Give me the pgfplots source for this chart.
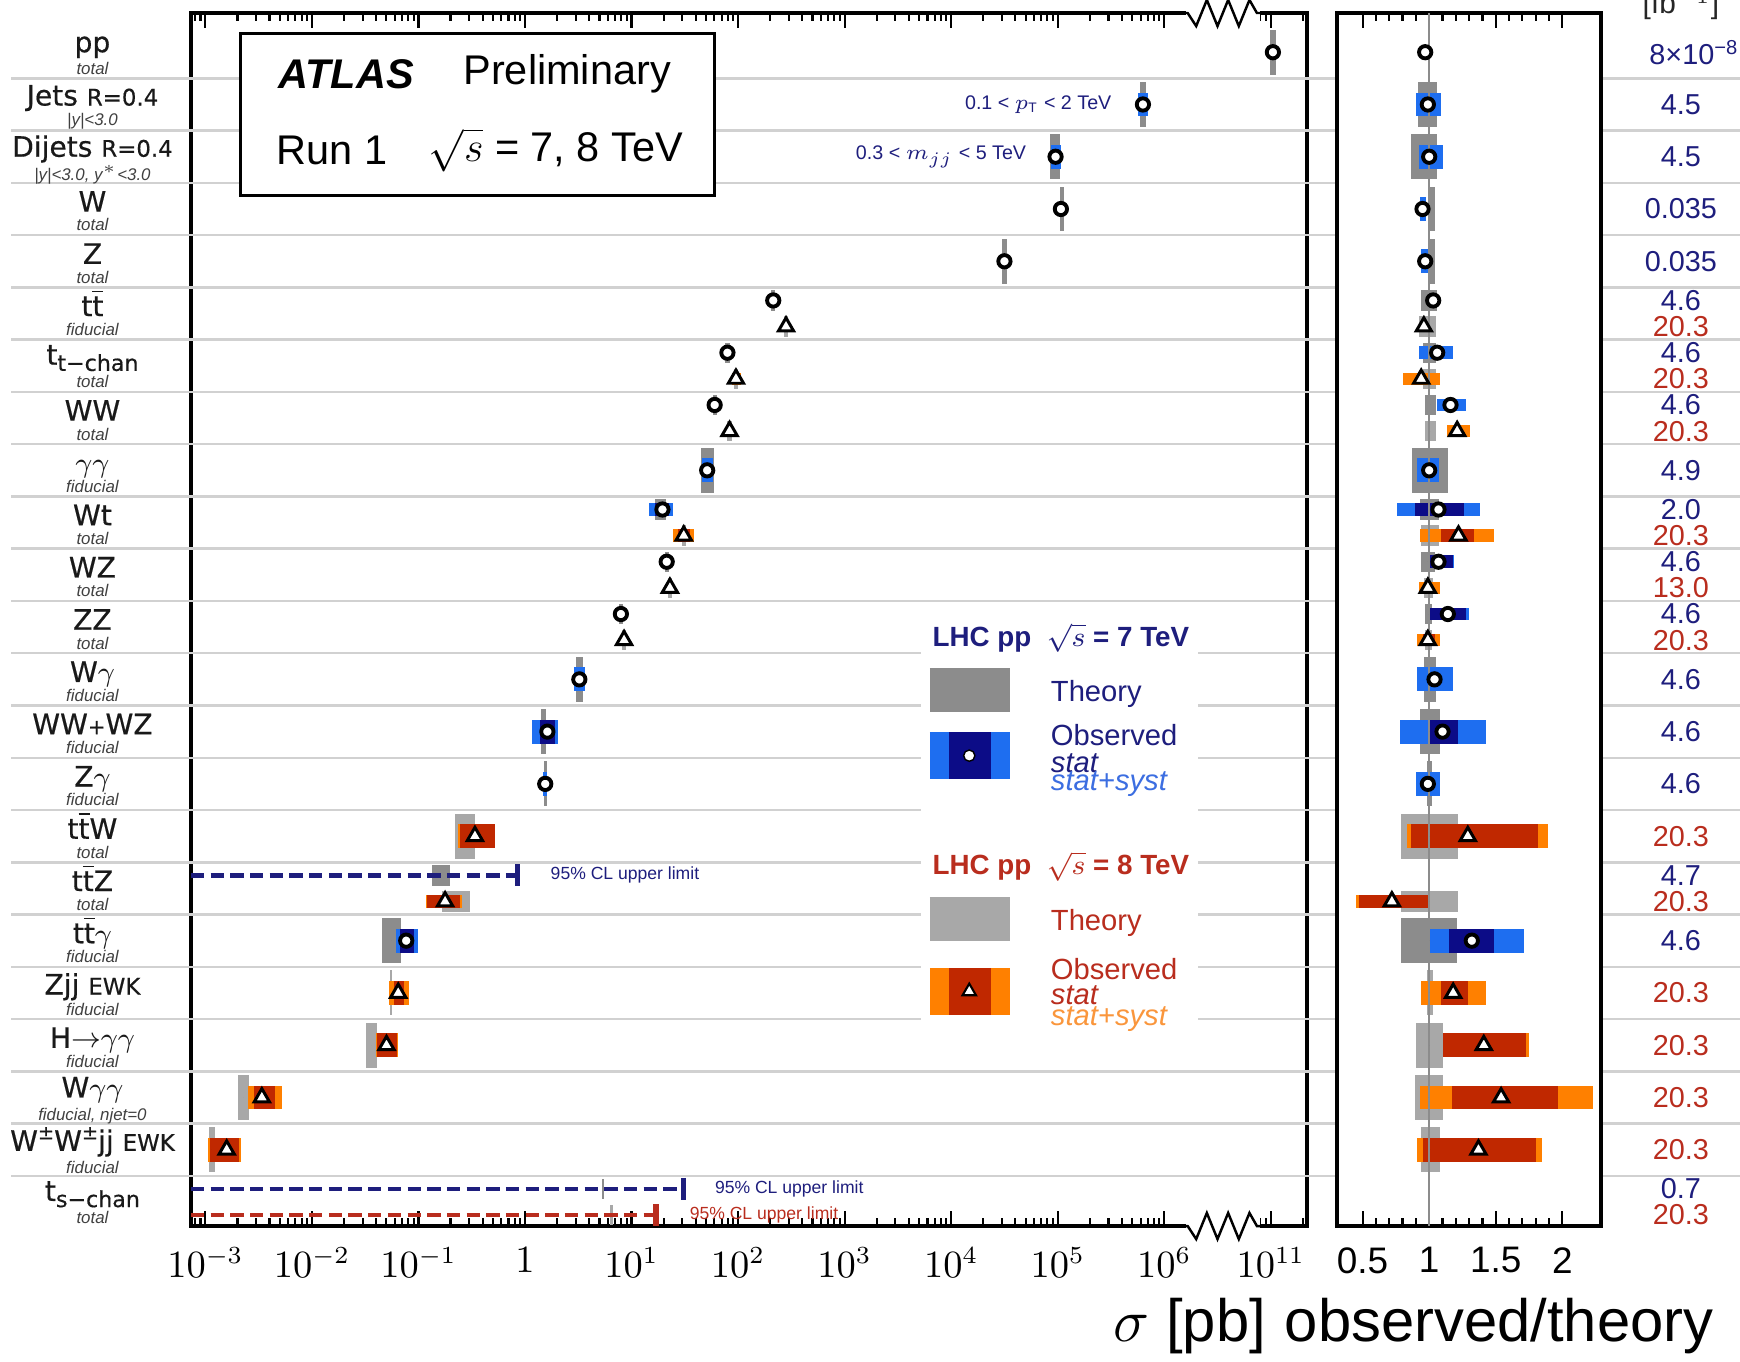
\documentclass[border=0pt]{standalone}
\usepackage{fontspec}
\setmainfont{Liberation Sans}
\newfontfamily\dejavu[FakeBold=0.5]{DejaVu Sans}
\usepackage{pgfplots}
\pgfplotsset{compat=1.18}
\usepackage{pgfplotstable}

\definecolor{txtsev}{RGB}{30,30,125}
\definecolor{txteig}{RGB}{185,45,30}
\definecolor{thsev}{RGB}{140,140,140}
\definecolor{theig}{RGB}{168,168,168}
\definecolor{obsevtot}{RGB}{30,110,240}
\definecolor{obsevstat}{RGB}{12,12,135}
\definecolor{obeigtot}{RGB}{255,128,0}
\definecolor{obeigstat}{RGB}{192,40,0}
\definecolor{syssev}{RGB}{60,110,225}
\definecolor{syseig}{RGB}{250,150,60}

% box heights: tall/short theory, single/paired observed
\def\hTa{12.8pt}
\def\hTb{5.8pt}
\def\hOa{6.8pt}
\def\hOb{3.6pt}

% log-scale minor ticks (axis is in log10 units, 10^6..10^11 compressed)
\def\mtl{-3.097,-3.046}
\foreach \d in {-3,...,5}{\foreach \l in {0.301,0.477,0.602,0.699,0.778,0.845,0.903,0.954}{\pgfmathsetmacro\v{\d+\l}\xdef\mtl{\mtl,\v}}}
\xdef\mtl{\mtl,6.903,6.954,7.301}
\edef\tmp{\noexpand\pgfplotsset{logminor/.style={minor xtick={\mtl}}}}\tmp

% one horizontal box per row: y, lower edge, upper edge
\newcommand{\bx}[3]{\addplot[only marks, mark=*, mark size=0pt,
  mark options={draw=none, fill=none}, forget plot,
  error bars/.cd, x dir=both, x explicit, error mark=none,
  error bar style={draw=#2, line width=#3, line cap=butt}]
  table[x expr={(\thisrow{lo}+\thisrow{hi})/2}, y=y,
        x error expr={(\thisrow{hi}-\thisrow{lo})/2}] {#1};}

%%%%% main panel, x = log10(sigma/pb)
\pgfplotstableread{
y lo hi
1 6.995 7.045
2 5.77 5.83
3 4.93 5.02
4 5.02 5.06
5 4.48 4.52
9 1.65 1.77
13 0.48 0.54
14 0.15 0.20
15 0.175 0.205
18 -1.34 -1.16
}\mThSevA
\pgfplotstableread{
y lo hi
5.75 2.31 2.35
6.75 1.88 1.92
7.75 1.76 1.80
9.75 1.22 1.32
10.75 1.31 1.35
11.75 0.88 0.92
16.75 -0.875 -0.70
22.75 0.72 0.745
}\mThSevB
\pgfplotstableread{
y lo hi
16 -0.656 -0.47
19 -1.27 -1.25
20 -1.49 -1.39
21 -2.69 -2.59
22 -2.97 -2.91
}\mThEigA
\pgfplotstableread{
y lo hi
6.25 2.43 2.47
7.25 1.96 2.00
8.25 1.90 1.94
10.25 1.47 1.51
11.25 1.34 1.38
12.25 0.91 0.95
17.25 -0.78 -0.52
23.25 0.80 0.825
}\mThEigB
\pgfplotstableread{
y lo hi
2 5.75 5.85
3 4.94 5.03
9 1.66 1.76
13 0.46 0.56
14 0.07 0.31
15 0.17 0.21
18 -1.21 -1.0
}\mObSevTotA
\pgfplotstableread{
y lo hi
14 0.14 0.28
18 -1.17 -1.04
}\mObSevStatA
\pgfplotstableread{
y lo hi
9.75 1.16 1.39
}\mObSevTotB
\pgfplotstableread{
y lo hi
9.75 1.22 1.35
}\mObSevStatB
\pgfplotstableread{
y lo hi
16 -0.625 -0.28
19 -1.28 -1.09
20 -1.40 -1.19
21 -2.60 -2.28
22 -2.98 -2.67
}\mObEigTotA
\pgfplotstableread{
y lo hi
16 -0.61 -0.28
19 -1.23 -1.14
20 -1.39 -1.20
21 -2.54 -2.35
22 -2.96 -2.68
}\mObEigStatA
\pgfplotstableread{
y lo hi
7.25 1.94 2.03
10.25 1.39 1.59
17.25 -0.93 -0.59
}\mObEigTotB
\pgfplotstableread{
y lo hi
10.25 1.44 1.55
17.25 -0.92 -0.61
}\mObEigStatB
\pgfplotstableread{
x y
7.02 1
5.80 2
4.98 3
5.03 4
4.50 5
2.33 5.75
1.90 6.75
1.78 7.75
1.71 9
1.29 9.75
1.33 10.75
0.90 11.75
0.51 13
0.21 14
0.19 15
-1.115 18
}\mCirc
\pgfplotstableread{
x y
2.45 6.25
1.98 7.25
1.92 8.25
1.49 10.25
1.36 11.25
0.93 12.25
-0.47 16
-0.75 17.25
-1.19 19
-1.30 20
-2.47 21
-2.80 22
}\mTri

%%%%% ratio panel, x = observed/theory
\pgfplotstableread{
y lo hi
2 0.917 1.06
3 0.86 1.06
4 0.99 1.04
5 0.99 1.04
9 0.87 1.14
13 0.96 1.05
14 0.93 1.08
15 0.98 1.02
18 0.79 1.21
}\rThSevA
\pgfplotstableread{
y lo hi
5.75 0.94 1.06
6.75 0.95 1.05
7.75 0.97 1.05
9.75 0.93 1.07
10.75 0.94 1.04
11.75 0.97 1.02
}\rThSevB
\pgfplotstableread{
y lo hi
16 0.79 1.22
19 0.98 1.03
20 0.90 1.10
21 0.89 1.10
22 0.94 1.08
}\rThEigA
\pgfplotstableread{
y lo hi
6.25 0.92 1.05
7.25 0.95 1.05
8.25 0.97 1.05
10.25 0.94 1.07
11.25 0.96 1.03
12.25 0.97 1.02
17.25 0.79 1.22
}\rThEigB
\pgfplotstableread{
y lo hi
2 0.90 1.09
3 0.92 1.10
4 0.93 0.975
5 0.94 0.99
9 0.91 1.075
13 0.91 1.18
14 0.78 1.43
15 0.90 1.08
18 1.00 1.71
}\rObSevTotA
\pgfplotstableread{
y lo hi
14 1.00 1.22
18 1.15 1.49
}\rObSevStatA
\pgfplotstableread{
y lo hi
6.75 0.92 1.18
7.75 1.06 1.28
9.75 0.76 1.38
10.75 0.99 1.19
11.75 0.99 1.30
}\rObSevTotB
\pgfplotstableread{
y lo hi
9.75 0.89 1.26
10.75 1.00 1.18
11.75 1.00 1.28
}\rObSevStatB
\pgfplotstableread{
y lo hi
16 0.83 1.89
19 0.94 1.43
20 1.10 1.75
21 0.93 2.23
22 0.91 1.85
}\rObEigTotA
\pgfplotstableread{
y lo hi
16 0.86 1.82
19 1.09 1.29
20 1.10 1.73
21 1.17 1.97
22 0.95 1.80
}\rObEigStatA
\pgfplotstableread{
y lo hi
7.25 0.80 1.08
8.25 1.13 1.31
10.25 0.93 1.49
11.25 0.92 1.08
12.25 0.91 1.08
17.25 0.45 1.00
}\rObEigTotB
\pgfplotstableread{
y lo hi
10.25 1.09 1.34
12.25 0.95 1.04
17.25 0.47 1.00
}\rObEigStatB
\pgfplotstableread{
x y
0.97 1
0.99 2
1.00 3
0.95 4
0.97 5
1.03 5.75
1.06 6.75
1.16 7.75
1.00 9
1.07 9.75
1.07 10.75
1.14 11.75
1.04 13
1.10 14
0.99 15
1.32 18
}\rCirc
\pgfplotstableread{
x y
0.96 6.25
0.94 7.25
1.21 8.25
1.22 10.25
0.99 11.25
0.99 12.25
1.29 16
0.72 17.25
1.18 19
1.41 20
1.54 21
1.37 22
}\rTri

\tikzset{
  lab/.style={font=\dejavu\fontsize{8}{9}\selectfont, text=black!90, anchor=base, inner sep=0pt},
  sub/.style={font=\fontsize{4.8}{5}\selectfont\itshape, text=black!75, anchor=base, inner sep=0pt},
  lum7/.style={font=\fontsize{8.2}{9}\selectfont, text=txtsev, inner sep=0pt},
  lum8/.style={font=\fontsize{8.2}{9}\selectfont, text=txteig, inner sep=0pt},
  sep/.style={draw=black!18, line width=0.7pt},
  leg/.style={anchor=west, inner sep=0pt, font=\fontsize{8.3}{9}\selectfont},
}
\pgfplotsset{
  circ/.style={only marks, mark=*, mark size=1.75pt, mark options={fill=white, draw=black, line width=1.1pt}},
  tri/.style={only marks, mark=triangle*, mark size=2.5pt, mark options={fill=white, draw=black, line width=0.85pt}},
  panel/.style={scale only axis, anchor=south west, height=12.13cm,
    ymin=0.25, ymax=23.46, y dir=reverse, ytick=\empty, clip=false,
    axis line style={line width=0.9pt},
    major tick length=0.15cm, minor tick length=0.08cm,
    every tick/.style={black, line width=0.6pt},
    tick label style={font=\fontsize{10.5}{12}\selectfont},
    xticklabel style={yshift=-0.9mm}},
}
\newcommand{\tb}{$\overline{\mbox{t}}$}

\begin{document}
\begin{tikzpicture}
\path[use as bounding box] (0,0) rectangle (17.4,13.61);

\begin{axis}[panel, at={(1.91cm,1.35cm)}, width=11.16cm,
  xmin=-3.135, xmax=7.34,
  xtick={-3,-2,-1,0,1,2,3,4,5,6,7},
  xticklabels={$10^{-3}$,$10^{-2}$,$10^{-1}$,$1$,$10^{1}$,$10^{2}$,$10^{3}$,$10^{4}$,$10^{5}$,$10^{6}$,$10^{11}$},
  logminor]
% row separators
\pgfplotsinvokeforeach{1,...,22}{
  \draw[sep] (-4.82,#1.5) -- (-3.135,#1.5);
  \draw[sep] (-3.135,#1.5) -- (11.4,#1.5);}
% ATLAS box and legend background
\draw[line width=0.8pt, fill=white] (-2.667,0.639) rectangle (1.781,3.739);
\fill[white] (3.72,11.8) rectangle (6.32,19.85);

% theory
\bx{\mThSevA}{thsev}{\hTa}
\bx{\mThSevB}{thsev}{\hTb}
\bx{\mThEigA}{theig}{\hTa}
\bx{\mThEigB}{theig}{\hTb}
% observed
\bx{\mObSevTotA}{obsevtot}{\hOa}
\bx{\mObSevStatA}{obsevstat}{\hOa}
\bx{\mObSevTotB}{obsevtot}{\hOb}
\bx{\mObSevStatB}{obsevstat}{\hOb}
\bx{\mObEigTotA}{obeigtot}{\hOa}
\bx{\mObEigStatA}{obeigstat}{\hOa}
\bx{\mObEigTotB}{obeigtot}{\hOb}
\bx{\mObEigStatB}{obeigstat}{\hOb}

% 95% CL upper limits
\addplot[txtsev, line width=1.3pt, dash pattern=on 3.8pt off 1.8pt] coordinates {(-3.135,16.75) (-0.073,16.75)};
\addplot[txtsev, line width=1.5pt] coordinates {(-0.073,16.54) (-0.073,16.96)};
\addplot[txtsev, line width=1.3pt, dash pattern=on 3.8pt off 1.8pt] coordinates {(-3.135,22.75) (1.49,22.75)};
\addplot[txtsev, line width=1.5pt] coordinates {(1.49,22.54) (1.49,22.96)};
\addplot[txteig, line width=1.3pt, dash pattern=on 3.8pt off 1.8pt] coordinates {(-3.135,23.25) (1.23,23.25)};
\addplot[txteig, line width=1.5pt] coordinates {(1.23,23.04) (1.23,23.46)};

\addplot[circ] table {\mCirc};
\addplot[tri] table {\mTri};

% legend
\node[leg, font=\fontsize{7.9}{9}\selectfont\bfseries, text=txtsev] at (3.82,12.21) {LHC pp\ \ $\sqrt{s}$ = 7 TeV};
\addplot[thsev, line width=12.6pt] coordinates {(3.80,13.2) (4.55,13.2)};
\addplot[obsevtot, line width=13.3pt] coordinates {(3.80,14.46) (4.55,14.46)};
\addplot[obsevstat, line width=13.3pt] coordinates {(3.98,14.46) (4.37,14.46)};
\addplot[only marks, mark=*, mark size=1.6pt, mark options={fill=white, draw=black, line width=0.4pt}] coordinates {(4.17,14.46)};
\node[leg, text=txtsev] at (4.93,13.27) {Theory};
\node[leg, text=txtsev] at (4.93,14.06) {Observed};
\node[leg, text=txtsev, font=\fontsize{8.3}{9}\selectfont\itshape] at (4.93,14.6) {stat};
\node[leg, text=syssev, font=\fontsize{8.3}{9}\selectfont\itshape] at (4.93,15.0) {stat+syst};

\node[leg, font=\fontsize{7.9}{9}\selectfont\bfseries, text=txteig] at (3.82,16.58) {LHC pp\ \ $\sqrt{s}$ = 8 TeV};
\addplot[theig, line width=12.6pt] coordinates {(3.80,17.58) (4.55,17.58)};
\addplot[obeigtot, line width=13.3pt] coordinates {(3.80,18.97) (4.55,18.97)};
\addplot[obeigstat, line width=13.3pt] coordinates {(3.98,18.97) (4.37,18.97)};
\addplot[only marks, mark=triangle*, mark size=2.2pt, mark options={fill=white, draw=black, line width=0.6pt}] coordinates {(4.17,18.97)};
\node[leg, text=txteig] at (4.93,17.67) {Theory};
\node[leg, text=txteig] at (4.93,18.54) {Observed};
\node[leg, text=txteig, font=\fontsize{8.3}{9}\selectfont\itshape] at (4.93,19.04) {stat};
\node[leg, text=syseig, font=\fontsize{8.3}{9}\selectfont\itshape] at (4.93,19.5) {stat+syst};

% ATLAS label
\node[font=\fontsize{11.8}{13}\selectfont\bfseries\itshape] at (-1.677,1.42) {ATLAS};
\node[font=\fontsize{11.8}{13}\selectfont] at (0.396,1.42) {Preliminary};
\node[font=\fontsize{11.8}{13}\selectfont] at (-1.81,2.87) {Run 1};
\node[font=\fontsize{11.8}{13}\selectfont] at (0.29,2.87) {$\sqrt{s}$ = 7, 8 TeV};

% in-panel notes
\node[anchor=east, font=\fontsize{5.6}{6}\selectfont, text=txtsev] at (5.62,2) {0.1 < $p_{\mathrm{T}}$ < 2 TeV};
\node[anchor=east, font=\fontsize{5.6}{6}\selectfont, text=txtsev] at (4.82,3) {0.3 < $m_{jj}$ < 5 TeV};
\node[anchor=west, font=\fontsize{5}{5}\selectfont, text=txtsev] at (0.125,16.75) {95\% CL upper limit};
\node[anchor=west, font=\fontsize{5}{5}\selectfont, text=txtsev] at (1.667,22.75) {95\% CL upper limit};
\node[anchor=west, font=\fontsize{5}{5}\selectfont, text=txteig] at (1.43,23.25) {95\% CL upper limit};

% process labels
\node[lab] at (-4.06,1.0) {pp};                 \node[sub] at (-4.06,1.42) {total};
\node[lab] at (-4.06,2.02) {Jets {\fontsize{6.5}{7}\selectfont R=0.4}}; \node[sub] at (-4.06,2.41) {|y|<3.0};
\node[lab] at (-4.06,3.0) {Dijets {\fontsize{6.5}{7}\selectfont R=0.4}}; \node[sub] at (-4.06,3.46) {|y|<3.0, y$^*$<3.0};
\node[lab] at (-4.06,4.05) {W};                  \node[sub] at (-4.06,4.42) {total};
\node[lab] at (-4.06,5.05) {Z};                  \node[sub] at (-4.06,5.42) {total};
\node[lab] at (-4.06,6.05) {t\tb};               \node[sub] at (-4.06,6.42) {fiducial};
\node[lab] at (-4.06,6.98) {t\raisebox{-0.4ex}{\fontsize{6.3}{7}\selectfont t−chan}}; \node[sub] at (-4.06,7.42) {total};
\node[lab] at (-4.06,8.05) {WW};                 \node[sub] at (-4.06,8.42) {total};
\node[lab] at (-4.06,9.05) {$\gamma\gamma$};     \node[sub] at (-4.06,9.42) {fiducial};
\node[lab] at (-4.06,10.05) {Wt};                \node[sub] at (-4.06,10.42) {total};
\node[lab] at (-4.06,11.05) {WZ};                \node[sub] at (-4.06,11.42) {total};
\node[lab] at (-4.06,12.05) {ZZ};                \node[sub] at (-4.06,12.42) {total};
\node[lab] at (-4.06,13.05) {W$\gamma$};         \node[sub] at (-4.06,13.42) {fiducial};
\node[lab] at (-4.06,14.05) {WW{\fontsize{6}{6}\selectfont +}WZ}; \node[sub] at (-4.06,14.42) {fiducial};
\node[lab] at (-4.06,15.05) {Z$\gamma$};         \node[sub] at (-4.06,15.42) {fiducial};
\node[lab] at (-4.06,16.05) {t\tb W};            \node[sub] at (-4.06,16.42) {total};
\node[lab] at (-4.06,17.05) {t\tb Z};            \node[sub] at (-4.06,17.42) {total};
\node[lab] at (-4.06,18.05) {t\tb$\gamma$};      \node[sub] at (-4.06,18.42) {fiducial};
\node[lab] at (-4.06,19.03) {Zjj {\fontsize{6.5}{7}\selectfont EWK}}; \node[sub] at (-4.06,19.43) {fiducial};
\node[lab] at (-4.06,20.05) {H{$\rightarrow$}{$\gamma\gamma$}}; \node[sub] at (-4.06,20.42) {fiducial};
\node[lab] at (-4.06,21.0) {W$\gamma\gamma$};   \node[sub] at (-4.06,21.44) {fiducial, njet=0};
\node[lab] at (-4.06,22.02) {W\raisebox{0.75ex}{\fontsize{5.5}{5}\selectfont ±}W\raisebox{0.75ex}{\fontsize{5.5}{5}\selectfont ±}jj {\fontsize{6.5}{7}\selectfont EWK}}; \node[sub] at (-4.06,22.45) {fiducial};
\node[lab] at (-4.06,22.98) {t\raisebox{-0.4ex}{\fontsize{6.3}{7}\selectfont s−chan}}; \node[sub] at (-4.06,23.42) {total};

% axis break
\fill[white] (6.20,-0.02) rectangle (6.90,0.52);
\draw[line width=0.7pt] (6.16,0.25) -- (6.22,0.25) -- (6.30,0.5) -- (6.40,0.0) -- (6.50,0.5) -- (6.60,0.0) -- (6.70,0.5) -- (6.80,0.0) -- (6.87,0.25) -- (6.90,0.25);
\fill[white] (6.20,23.19) rectangle (6.90,23.73);
\draw[line width=0.7pt] (6.16,23.46) -- (6.22,23.46) -- (6.30,23.71) -- (6.40,23.21) -- (6.50,23.71) -- (6.60,23.21) -- (6.70,23.71) -- (6.80,23.21) -- (6.87,23.46) -- (6.90,23.46);

\node[font=\fontsize{17}{20}\selectfont] at (6.24,25.37) {$\sigma$ [pb]};
\end{axis}

\begin{axis}[panel, at={(13.37cm,1.35cm)}, width=2.64cm,
  xmin=0.308, xmax=2.29,
  xtick={0.5,1,1.5,2}, xticklabels={0.5,1,1.5,2},
  minor x tick num=4,
  axis background/.style={fill=white}]
\bx{\rThSevA}{thsev}{\hTa}
\bx{\rThSevB}{thsev}{\hTb}
\bx{\rThEigA}{theig}{\hTa}
\bx{\rThEigB}{theig}{\hTb}
\bx{\rObSevTotA}{obsevtot}{\hOa}
\bx{\rObSevStatA}{obsevstat}{\hOa}
\bx{\rObSevTotB}{obsevtot}{\hOb}
\bx{\rObSevStatB}{obsevstat}{\hOb}
\bx{\rObEigTotA}{obeigtot}{\hOa}
\bx{\rObEigStatA}{obeigstat}{\hOa}
\bx{\rObEigTotB}{obeigtot}{\hOb}
\bx{\rObEigStatB}{obeigstat}{\hOb}
\addplot[black!45, line width=0.6pt] coordinates {(1,0.25) (1,23.46)};
\addplot[circ] table {\rCirc};
\addplot[tri] table {\rTri};

% integrated luminosity column
\node[font=\fontsize{8.5}{9}\selectfont, text=black!85] at (2.89,0.1) {[fb$^{-1}$]};
\node[lum7] at (2.99,1) {8×10\textsuperscript{−8}};
\node[lum7] at (2.89,2) {4.5};
\node[lum7] at (2.89,3) {4.5};
\node[lum7] at (2.89,4) {0.035};
\node[lum7] at (2.89,5) {0.035};
\node[lum7] at (2.89,5.75) {4.6};  \node[lum8] at (2.89,6.25) {20.3};
\node[lum7] at (2.89,6.75) {4.6};  \node[lum8] at (2.89,7.25) {20.3};
\node[lum7] at (2.89,7.75) {4.6};  \node[lum8] at (2.89,8.25) {20.3};
\node[lum7] at (2.89,9) {4.9};
\node[lum7] at (2.89,9.75) {2.0};  \node[lum8] at (2.89,10.25) {20.3};
\node[lum7] at (2.89,10.75) {4.6}; \node[lum8] at (2.89,11.25) {13.0};
\node[lum7] at (2.89,11.75) {4.6}; \node[lum8] at (2.89,12.25) {20.3};
\node[lum7] at (2.89,13) {4.6};
\node[lum7] at (2.89,14) {4.6};
\node[lum7] at (2.89,15) {4.6};
\node[lum8] at (2.89,16) {20.3};
\node[lum7] at (2.89,16.75) {4.7}; \node[lum8] at (2.89,17.25) {20.3};
\node[lum7] at (2.89,18) {4.6};
\node[lum8] at (2.89,19) {20.3};
\node[lum8] at (2.89,20) {20.3};
\node[lum8] at (2.89,21) {20.3};
\node[lum8] at (2.89,22) {20.3};
\node[lum7] at (2.89,22.75) {0.7}; \node[lum8] at (2.89,23.25) {20.3};

\node[font=\fontsize{17}{20}\selectfont] at (1.525,25.37) {observed/theory};
\end{axis}
\end{tikzpicture}
\end{document}
